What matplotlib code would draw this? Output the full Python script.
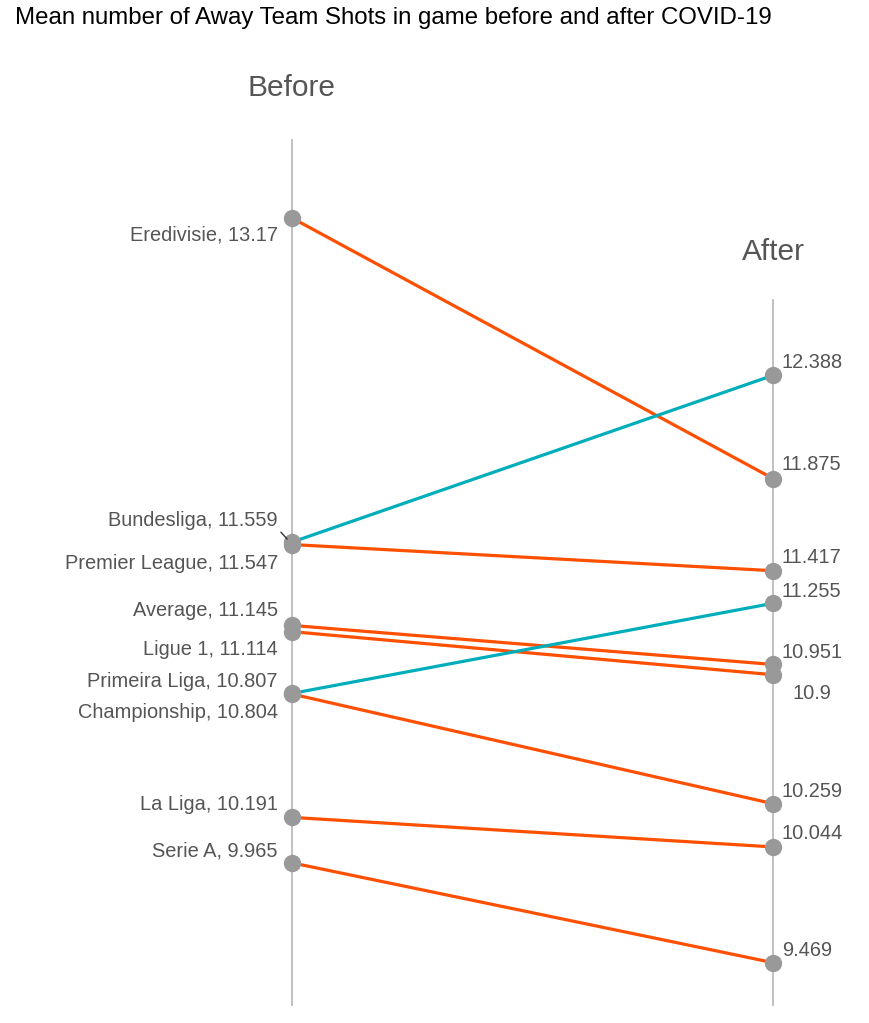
import matplotlib.pyplot as plt

plt.rcParams['font.family'] = ['Liberation Sans', 'DejaVu Sans']

leagues = ["Eredivisie", "Bundesliga", "Premier League", "Average", "Ligue 1",
           "Primeira Liga", "Championship", "La Liga", "Serie A"]
before = [13.17, 11.559, 11.547, 11.145, 11.114, 10.807, 10.804, 10.191, 9.965]
after = [11.875, 12.388, 11.417, 10.951, 10.9, 11.255, 10.259, 10.044, 9.469]
title = "Mean number of Away Team Shots in game before and after COVID-19"

# label nudges in pixels (repel-style), screen-down positive
left_dy = [17, -22, 19, -15, 18, -12, 18, -13, -12]
right_dy = [-14, -13, -13, -12, 19, -12, -12, -13, -12]
right_dx = [9, 9, 9, 9, 20, 9, 9, 9, 9]

up_col = "#00AEBB"
down_col = "#FF4F00"
txt_col = "#555555"
dot_col = "#999999"

fig = plt.figure(figsize=(8.7, 10.23), dpi=100)
ax = fig.add_axes([0, 0, 1, 1])
ax.set_xlim(0, 870)
ax.set_ylim(9.169, 14.2535)
ax.axis("off")

xl, xr = 292, 773
ax.plot([xl, xl], [9.258, 13.558], color="#BBBBBB", lw=1.3, zorder=1)
ax.plot([xr, xr], [9.258, 12.762], color="#BBBBBB", lw=1.3, zorder=1)

for name, b, a, dy, rdx, rdy in zip(leagues, before, after, left_dy, right_dx, right_dy):
    col = up_col if a > b else down_col
    ax.plot([xl, xr], [b, a], color=col, lw=2.3, zorder=2, solid_capstyle="butt")
    ax.plot([xl, xr], [b, a], "o", color=dot_col, ms=12.5, mec="none", zorder=3)
    ax.annotate(f"{name}, {b:g}", (xl, b), xytext=(-14, -dy), textcoords="offset pixels",
                ha="right", va="center", fontsize=14.4, color=txt_col)
    ax.annotate(f"{a:g}", (xr, a), xytext=(rdx, -rdy), textcoords="offset pixels",
                ha="left", va="center", fontsize=14.4, color=txt_col)

# leader line for Bundesliga label
ax.annotate("", (xl - 3, before[1] + 1 / 201.2), xytext=(xl - 13, before[1] + 12 / 201.2),
            arrowprops=dict(arrowstyle="-", color="#333333", lw=1))

ax.text(xl, 14.2535 - 88 / 201.2, "Before", ha="center", va="center", fontsize=21.5, color=txt_col)
ax.text(xr, 14.2535 - 252 / 201.2, "After", ha="center", va="center", fontsize=21.5, color=txt_col)
fig.text(15 / 870, 1 - 18 / 1023, title, ha="left", va="center", fontsize=17.3, color="black")

fig.savefig("out.png", dpi=100)
